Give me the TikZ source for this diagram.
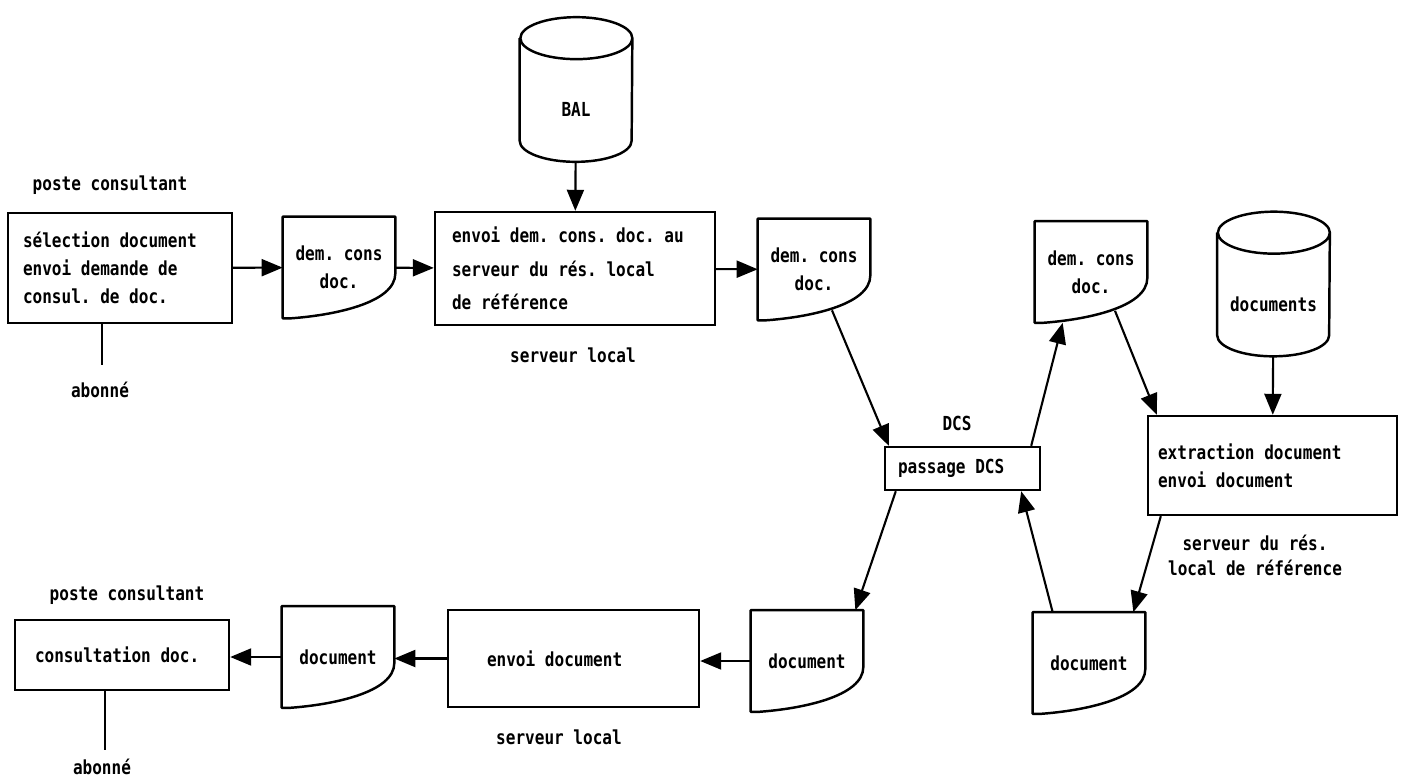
\documentclass[tikz,border=0pt]{standalone}
\usepackage{fontspec}
\usepackage{tikz}
\usetikzlibrary{arrows.meta, positioning}
\newfontfamily\pcfont{DejaVu Sans Mono}[FakeStretch=0.83]
\frenchspacing

% contour of a document symbol
\newcommand{\docbord}[1]{%
  \draw[bord] (#1.south west) -- (#1.north west) -- (#1.north east)
    -- ([yshift=0.9cm]#1.south east)
    .. controls ([yshift=0.3cm]#1.south east) and ([xshift=1.0cm,yshift=0.06cm]#1.south west)
    .. ([xshift=0.16cm]#1.south west) -- cycle;}
% contour of a disk symbol
\newcommand{\cylbord}[1]{%
  \draw[bord] ([yshift=-0.42cm]#1.north west) -- ([yshift=0.42cm]#1.south west)
    arc[start angle=180, end angle=360, x radius=1.12cm, y radius=0.42cm]
    -- ([yshift=-0.42cm]#1.north east)
    arc[start angle=0, end angle=360, x radius=1.12cm, y radius=0.42cm];}

\begin{document}
\begin{tikzpicture}[
    x=0.02cm, y=-0.02cm,
    font=\pcfont\bfseries\fontsize{11}{15.8}\selectfont,
    bord/.style={line width=1.4pt, line join=round},
    box/.style={rectangle, draw=black, line width=1.4pt, inner ysep=0pt, align=flush left},
    docu/.style={rectangle, minimum width=2.24cm, minimum height=2.02cm, inner sep=0pt, align=flush center},
    cyl/.style={rectangle, minimum width=2.24cm, minimum height=2.88cm, inner sep=0pt, text height=1.1cm, text depth=0pt},
    fleche/.style={-{Triangle[length=0.42cm, width=0.34cm]}, line width=1.2pt},
    lien/.style={line width=1.2pt}
]
    \useasboundingbox (0,0) rectangle (1406,781);

    % demande de consultation
    \node[box, text width=3.88cm, inner xsep=0.3cm, minimum height=2.2cm] (select) at (120,268) {sélection document\\envoi demande de\\consul. de doc.};
    \node (poste1) at (110,185) {poste consultant};
    \coordinate (ab1) at (102,365);
    \node (abonne1) at (100,390) {abonné};
    \node[docu] (dem1) at (339,267.5) {dem. cons\\doc.};
    \node[box, text width=4.92cm, inner xsep=0.34cm, minimum height=2.26cm] (envdem) at (575,268.5) {envoi dem. cons. doc. au\\[3.4pt]serveur du rés. local\\[3.4pt]de référence};
    \node (servloc1) at (573,355) {serveur local};
    \node[cyl] (bal) at (576,89.5) {BAL};
    \node[docu] (dem2) at (814,269.5) {dem. cons\\doc.};

    % passage par DCS
    \node[box, text width=2.58cm, inner xsep=0.26cm, minimum height=0.86cm] (dcs) at (962.5,468.5) {passage DCS};
    \node (dcslbl) at (957,423) {DCS};

    % serveur de reference
    \node[docu] (dem3) at (1091,272) {dem. cons\\doc.};
    \node[cyl] (docs) at (1273.5,284) {documents};
    \node[box, text width=4.58cm, inner xsep=0.2cm, minimum height=1.98cm] (extract) at (1272.5,465.5) {extraction document\\envoi document};
    \node[align=flush center, font=\pcfont\bfseries\fontsize{11}{14.2}\selectfont] (servref) at (1255,555) {serveur du rés.\\local de référence};
    \node[docu] (doc4) at (1089,663) {document};

    % retour du document
    \node[docu] (doc5) at (807,661) {document};
    \node[box, text width=3.46cm, inner xsep=0.78cm, minimum height=1.94cm] (envdoc) at (573.5,658.5) {envoi document};
    \node (servloc2) at (559,737) {serveur local};
    \node[docu] (doc6) at (338,657) {document};
    \node[box, text width=3.48cm, inner xsep=0.4cm, minimum height=1.4cm] (consult) at (122,655) {consultation doc.};
    \node (poste2) at (127,595) {poste consultant};
    \coordinate (ab2) at (105,750);
    \node (abonne2) at (102,767) {abonné};

    % symbols
    \docbord{dem1} \docbord{dem2} \docbord{dem3}
    \docbord{doc4} \docbord{doc5} \docbord{doc6}
    \cylbord{bal} \cylbord{docs}

    % arrows
    \draw[fleche] (select) -- (dem1);
    \draw[fleche] (dem1) -- (envdem);
    \draw[fleche] (bal) -- (envdem);
    \draw[fleche] (envdem) -- (dem2);
    \draw[fleche] ([xshift=0.36cm,yshift=0.2cm]dem2.south) -- ([xshift=0.1cm]dcs.north west);
    \draw[fleche] ([xshift=-0.2cm]dcs.north east) -- ([xshift=0.56cm]dem3.south west);
    \draw[fleche] ([xshift=0.48cm,yshift=0.24cm]dem3.south) -- ([xshift=0.2cm]extract.north west);
    \draw[fleche] (docs) -- (extract);
    \draw[fleche] ([xshift=0.28cm]extract.south west) -- ([xshift=-0.24cm]doc4.north east);
    \draw[fleche] ([xshift=0.4cm]doc4.north west) -- ([xshift=-0.4cm]dcs.south east);
    \draw[fleche] ([xshift=0.24cm]dcs.south west) -- ([xshift=-0.16cm]doc5.north east);
    \draw[fleche] (doc5.west) -- (doc5.west -| envdoc.east);
    \draw[fleche] (envdoc.west) -- (envdoc.west -| doc6.east);
    \draw[fleche] (doc6.west) -- (doc6.west -| consult.east);
    \draw[lien] (select.south -| ab1) -- (ab1);
    \draw[lien] (consult.south -| ab2) -- (ab2);
\end{tikzpicture}
\end{document}
